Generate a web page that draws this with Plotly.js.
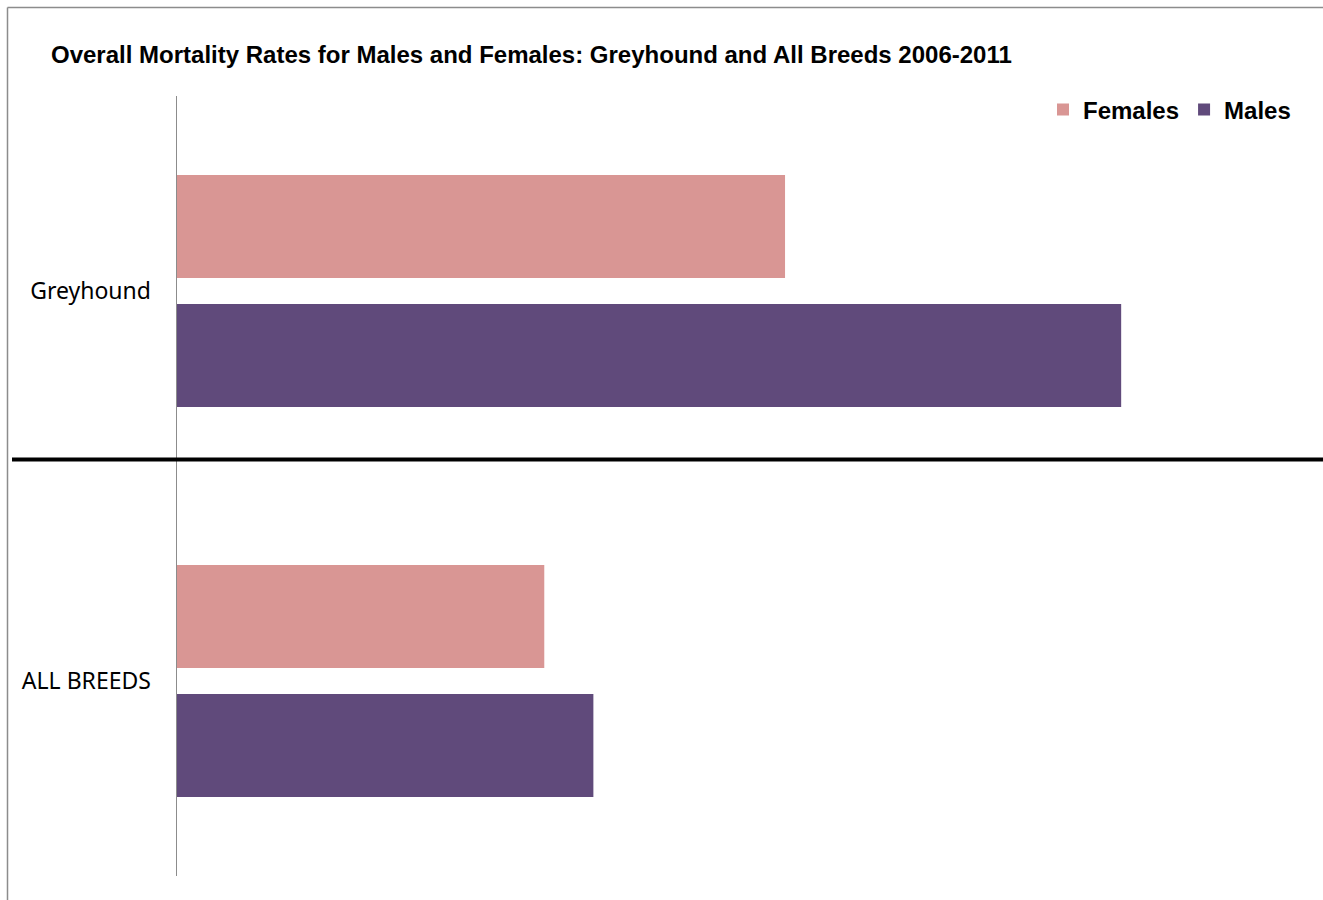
<!DOCTYPE html>
<html>
<head>
<meta charset="utf-8">
<script src="https://cdn.plot.ly/plotly-3.0.1.min.js"></script>
<style>html,body{margin:0;padding:0;background:#fff;}#chart{width:1323px;height:900px;}</style>
</head>
<body>
<div id="chart"></div>
<script>
const categories = ['Greyhound', 'ALL BREEDS'];
const femalesValues = [6.44, 3.89];
const malesValues = [10.0, 4.41];
const seriesNames = ['Females', 'Males'];

const W = 1323, H = 900;
const L = 177, R = 1310, T = 96, B = 876;
const px = x => (x - L) / (R - L);
const py = y => (B - y) / (B - T);

const traces = [
  {type: 'bar', orientation: 'h', name: '<b>' + seriesNames[0] + '</b>', y: categories, x: femalesValues,
   marker: {color: '#D99694'}, hoverinfo: 'x'},
  {type: 'bar', orientation: 'h', name: '<b>' + seriesNames[1] + '</b>', y: categories, x: malesValues,
   marker: {color: '#604A7B'}, hoverinfo: 'x'}
];

const layout = {
  width: W, height: H,
  margin: {l: L, r: W - R, t: T, b: H - B, pad: 0},
  paper_bgcolor: '#fff', plot_bgcolor: '#fff',
  barmode: 'group', bargap: 0.338, bargroupgap: 0.2016,
  title: {text: '<b>Overall Mortality Rates for Males and Females: Greyhound and All Breeds 2006-2011</b>',
    xref: 'container', yref: 'container', x: 51 / W, xanchor: 'left', y: 1 - 55 / H, yanchor: 'middle',
    font: {family: 'Liberation Sans, Arial', size: 24, color: '#000'}},
  xaxis: {range: [0, 12], showgrid: false, zeroline: false, showline: false, showticklabels: false, ticks: ''},
  yaxis: {type: 'category', autorange: 'reversed', showgrid: false, zeroline: false, showline: true,
    linecolor: '#8c8c8c', linewidth: 1.5, ticks: '', ticklabelstandoff: 20,
    tickfont: {family: 'Noto Sans, Open Sans', size: 23, color: '#000'}},
  legend: {orientation: 'h', x: px(1296), xanchor: 'right', y: py(110), yanchor: 'middle',
    font: {family: 'Liberation Sans, Arial', size: 24, color: '#000'}, itemwidth: 30, tracegroupgap: 0,
    bgcolor: 'rgba(0,0,0,0)'},
  shapes: [
    {type: 'line', xref: 'paper', yref: 'paper', x0: px(7.5), x1: px(7.5), y0: py(7.5), y1: py(900),
     line: {color: '#8c8c8c', width: 1.5}},
    {type: 'line', xref: 'paper', yref: 'paper', x0: px(7.5), x1: px(1323), y0: py(7.5), y1: py(7.5),
     line: {color: '#8c8c8c', width: 1.5}},
    {type: 'line', xref: 'paper', yref: 'paper', x0: px(12), x1: px(1323), y0: py(459.5), y1: py(459.5),
     line: {color: '#000', width: 4}}
  ]
};

Plotly.newPlot('chart', traces, layout, {displayModeBar: false, staticPlot: true});
</script>
</body>
</html>
